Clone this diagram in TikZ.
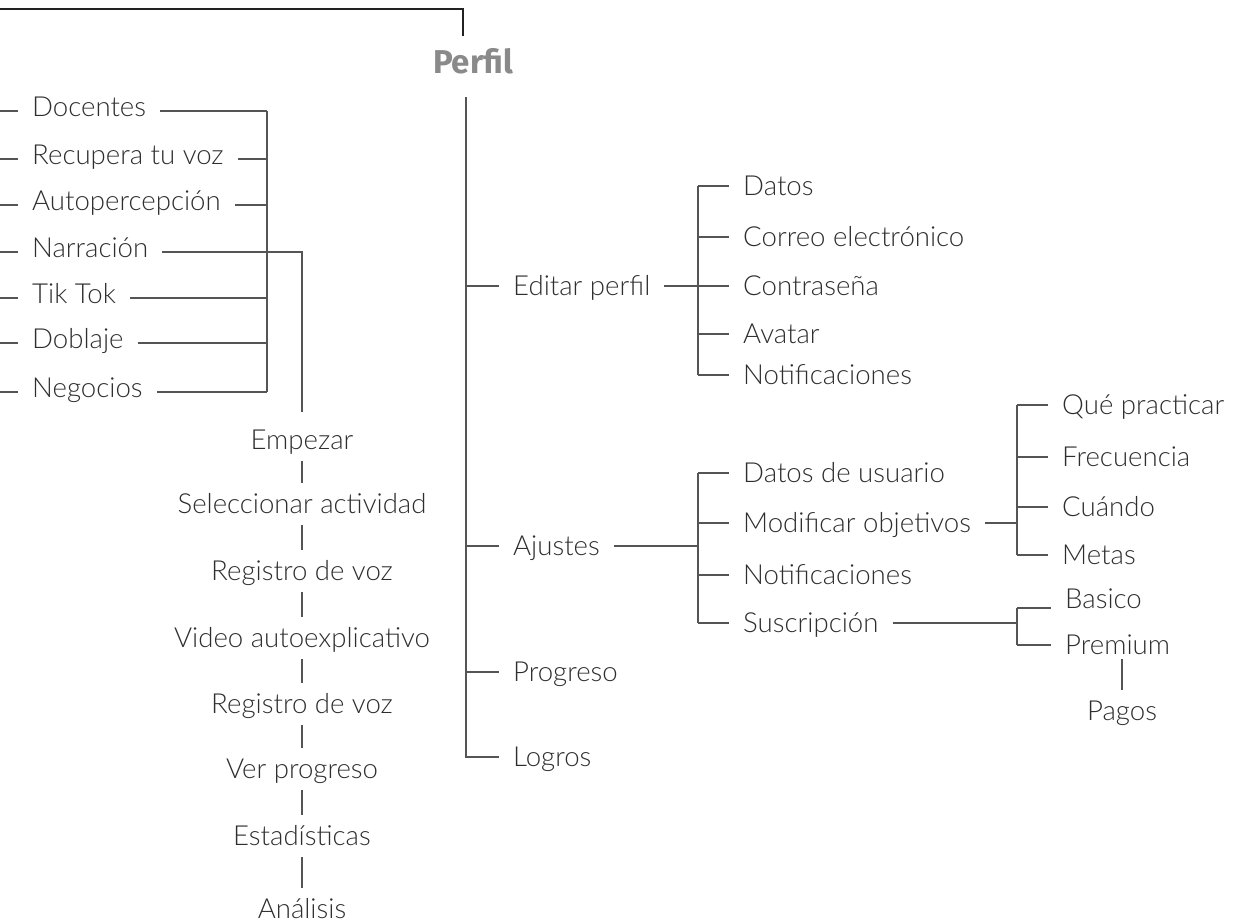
\documentclass[tikz,border=0pt]{standalone}
\usepackage{fontspec}
\setmainfont{Lato Light}
\newfontfamily\perfilfont{Fira Sans}
\definecolor{txt}{HTML}{2E2E2E}
\definecolor{lncol}{HTML}{555555}
\definecolor{topcol}{HTML}{222222}
\definecolor{perfcol}{HTML}{8A8A8A}
\begin{document}
\begin{tikzpicture}[x=1pt,y=-1pt,
 ln/.style={draw=lncol,line width=1.3pt},
 topln/.style={draw=topcol,line width=2.6pt},
 lblbase/.style={inner ysep=0pt,inner xsep=14pt,text=txt,font=\fontsize{27.6}{31}\selectfont},
 lblL/.style={lblbase,anchor=west,text height=17pt,text depth=7pt},
 lblR/.style={lblbase,anchor=west,text height=19pt,text depth=0pt},
 chainbox/.style={lblbase,anchor=base,inner xsep=0pt,inner ysep=12pt,text height=18pt,text depth=0pt},
]
\useasboundingbox (0,0) rectangle (1241,922);

% top bracket and title
\coordinate (t0) at (0,9);
\coordinate (t1) at (463,9);
\coordinate (t2) at (463,36);
\draw[topln] (t0) -- (t1) -- (t2);
\node[text=perfcol,font=\perfilfont\bfseries\fontsize{33}{36}\selectfont,anchor=base,inner sep=0pt] (perf) at (473,73) {Perfil};

% left list
\coordinate (lx) at (0,0);
\node[lblL] (doc) at (18,111) {Docentes};
\node[lblL] (rec) at (18,159) {Recupera tu voz};
\node[lblL] (aut) at (18,205) {Autopercepción};
\node[lblL] (nar) at (18,252) {Narración};
\node[lblL] (tik) at (18,298) {Tik Tok};
\node[lblL] (dob) at (18,343) {Doblaje};
\node[lblL] (neg) at (18,392) {Negocios};
\foreach \n in {doc,rec,aut,nar,tik,dob,neg}{
  \draw[ln] (\n.west -| lx) -- (\n.west);
}
\coordinate (bA) at (267,111);
\coordinate (bB) at (267,392);
\draw[ln] (bA) -- (bB);
\foreach \n in {doc,rec,aut,tik,dob,neg}{
  \draw[ln] (\n.east) -- (\n.east -| bA);
}
\coordinate (narEnd) at (302,412);
\draw[ln] (nar.east) -| (narEnd);

% chain
\node[chainbox] (emp) at (302,449) {Empezar};
\node[chainbox] (sel) at (302,513) {Seleccionar actividad};
\node[chainbox] (reg1) at (302,580) {Registro de voz};
\node[chainbox] (vid) at (302,647) {Video autoexplicativo};
\node[chainbox] (reg2) at (302,713) {Registro de voz};
\node[chainbox] (ver) at (302,778) {Ver progreso};
\node[chainbox] (est) at (302,845) {Estadísticas};
\node[chainbox] (ana) at (302,918) {Análisis};
\draw[ln] (emp.south) -- (sel.north);
\draw[ln] (sel.south) -- (reg1.north);
\draw[ln] (reg1.south) -- (vid.north);
\draw[ln] (vid.south) -- (reg2.north);
\draw[ln] (reg2.south) -- (ver.north);
\draw[ln] (ver.south) -- (est.north);
\draw[ln] (est.south) -- (ana.north);

% main trunk
\coordinate (mT) at (466,97);
\coordinate (mB) at (466,757);
\node[lblR] (ed) at (499,286) {Editar perfil};
\node[lblR] (aj) at (499,546) {Ajustes};
\node[lblR] (pro) at (499,672) {Progreso};
\node[lblR] (log) at (499,757) {Logros};
\draw[ln] (mT) -- (mB) -- (log.west);
\foreach \n in {ed,aj,pro}{
  \draw[ln] (\n.west -| mT) -- (\n.west);
}

% Editar perfil group
\coordinate (eT) at (698,186);
\coordinate (eB) at (698,375);
\node[lblR] (dat) at (729,186) {Datos};
\node[lblR] (cor) at (729,237) {Correo electrónico};
\node[lblR] (con) at (729,286) {Contraseña};
\node[lblR] (ava) at (729,334) {Avatar};
\node[lblR] (noa) at (729,375) {Notificaciones};
\draw[ln] (eT) -- (eB);
\draw[ln] (ed.east) -- (con.west);
\foreach \n in {dat,cor,ava,noa}{
  \draw[ln] (\n.west -| eT) -- (\n.west);
}

% Ajustes group
\coordinate (aT) at (698,473);
\coordinate (aB) at (698,623);
\node[lblR] (dus) at (729,473) {Datos de usuario};
\node[lblR] (mod) at (729,523) {Modificar objetivos};
\node[lblR] (nob) at (729,575) {Notificaciones};
\node[lblR] (sus) at (729,623) {Suscripción};
\draw[ln] (aT) -- (aB);
\draw[ln] (aj.east) -- (aj.east -| aT);
\foreach \n in {dus,mod,nob,sus}{
  \draw[ln] (\n.west -| aT) -- (\n.west);
}

% Modificar objetivos group
\coordinate (oT) at (1017,405);
\coordinate (oB) at (1017,555);
\node[lblR] (que) at (1048,405) {Qué practicar};
\node[lblR] (fre) at (1048,457) {Frecuencia};
\node[lblR] (cua) at (1048,507) {Cuándo};
\node[lblR] (met) at (1048,555) {Metas};
\draw[ln] (oT) -- (oB);
\draw[ln] (mod.east) -- (mod.east -| oT);
\foreach \n in {que,fre,cua,met}{
  \draw[ln] (\n.west -| oT) -- (\n.west);
}

% Suscripcion group
\coordinate (sT) at (1017,608);
\coordinate (sB) at (1017,645);
\node[lblbase,anchor=base west] (bas) at (1051,608) {Basico};
\node[lblR] (pre) at (1051,645) {Premium};
\draw[ln] (sT) -- (sB);
\draw[ln] (sus.east) -- (sus.east -| sT);
\draw[ln] (sT) -- (bas.base west);
\draw[ln] (sB) -- (pre.west);
\node[chainbox] (pag) at (1122,720) {Pagos};
\draw[ln] (pag.north) -- ([yshift=-4pt]pag.north |- pre.south);
\end{tikzpicture}
\end{document}
